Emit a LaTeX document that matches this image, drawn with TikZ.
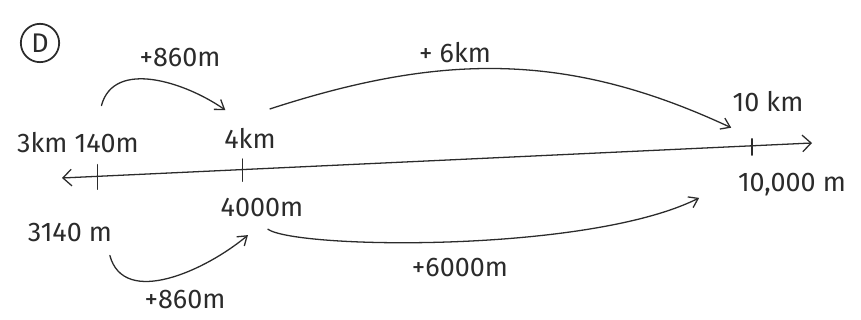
\documentclass[tikz,border=0pt]{standalone}
\usepackage{fontspec}
\setsansfont{Fira Sans}
\usetikzlibrary{arrows.meta}
\definecolor{pencil}{HTML}{2B2B2B}

\begin{document}
\begin{tikzpicture}[
  x=0.03cm, y=-0.03cm,
  font=\sffamily\fontsize{23}{27}\selectfont,
  hand/.style={pencil, line width=1.1pt, line cap=round},
  jump/.style={hand, -{Straight Barb[length=2.6mm, width=3.6mm]}},
  numtext/.style={text=pencil, inner sep=1pt}
]

% Page frame
\useasboundingbox (0,0) rectangle (861,320);

% Circled letter tag
\node[hand, draw, circle, line width=1.5pt, minimum size=1.15cm, inner sep=0pt] (tag) at (40,43) {D};

% Number line with its three ticks
\draw[hand, {Straight Barb[length=2.6mm, width=5mm]}-{Straight Barb[length=2.6mm, width=5mm]}]
  (62,178) -- coordinate[pos=0.047] (t1) coordinate[pos=0.241] (t2) coordinate[pos=0.92] (t3) (812,143);
\draw[hand] ([yshift=10pt]t1) -- ([yshift=-11pt]t1);
\draw[hand] ([yshift=9pt]t2) -- ([yshift=-10pt]t2);
\draw[hand] ([yshift=6pt]t3) -- ([yshift=-8pt]t3);

% Kilometre labels above the line
\node[numtext] (km1) at (78,143) {3km 140m};
\node[numtext] (km2) at (250,138) {4km};
\node[numtext] (km3) at (768,102) {10 km};

% Metre labels below the line
\node[numtext] (m1) at (70,233) {3140 m};
\node[numtext] (m2) at (262,208) {4000m};
\node[numtext] (m3) at (792,185) {10,000 m};

% Jump amounts
\node[numtext] (add1) at (180,58) {+860m};
\node[numtext] (add2) at (455,53) {+ 6km};
\node[numtext] (add3) at (185,300) {+860m};
\node[numtext] (add4) at (460,268) {+6000m};

% Jumps above the line
\draw[jump] ([xshift=20pt, yshift=22pt]km1.north) to[out=75, in=145] ([xshift=2pt, yshift=14pt]km2.north west);
\draw[jump] ([xshift=-6pt, yshift=15pt]km2.north east) to[out=18, in=155] ([yshift=-12pt]km3.south west);

% Jumps below the line
\draw[jump] ([xshift=34pt, yshift=-10pt]m1.south) to[out=-75, in=220] ([xshift=-12pt, yshift=-14pt]m2.south);
\draw[jump] ([xshift=5pt, yshift=-9pt]m2.south) .. controls +(30,20) and +(-110,55) .. ([xshift=-32pt, yshift=-11pt]m3.west);

\end{tikzpicture}
\end{document}
